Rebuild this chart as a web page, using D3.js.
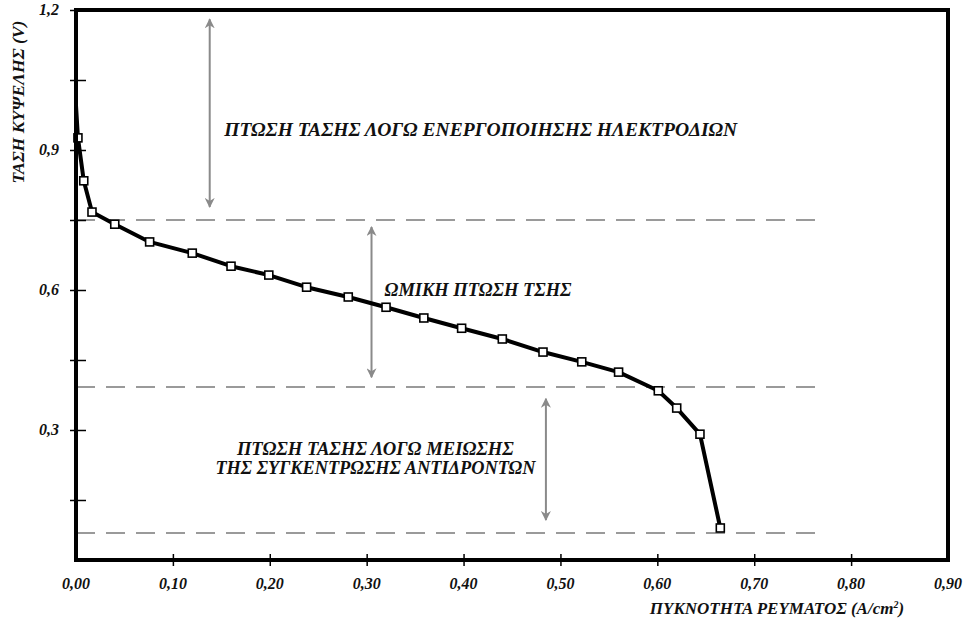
<!DOCTYPE html>
<html>
<head>
<meta charset="utf-8">
<script src="https://cdn.jsdelivr.net/npm/d3@7"></script>
<style>
  html, body { margin: 0; padding: 0; background: #fff; }
  svg text { font-family: "Liberation Serif", "DejaVu Serif", serif; font-weight: bold; font-style: italic; fill: #111; }
</style>
</head>
<body>
<svg id="chart" width="970" height="621"></svg>
<script>
// Current density (A/cm²) and cell voltage (V)
const currentDensity = [0.000, 0.002, 0.008, 0.0165, 0.040, 0.076, 0.120, 0.160, 0.199, 0.238, 0.281, 0.320, 0.359, 0.398, 0.440, 0.482, 0.522, 0.560, 0.601, 0.620, 0.644, 0.665];
const cellVoltage    = [0.995, 0.926, 0.834, 0.767, 0.741, 0.703, 0.679, 0.651, 0.632, 0.606, 0.585, 0.563, 0.540, 0.518, 0.495, 0.467, 0.446, 0.424, 0.384, 0.347, 0.291, 0.090];
const hasMarker      = [false, true, true, true, true, true, true, true, true, true, true, true, true, true, true, true, true, true, true, true, true, true];

const xTickValues = [0, 0.1, 0.2, 0.3, 0.4, 0.5, 0.6, 0.7, 0.8, 0.9];
const xTickLabels = ["0,00", "0,10", "0,20", "0,30", "0,40", "0,50", "0,60", "0,70", "0,80", "0,90"];
const yTickValues = [0.15, 0.3, 0.45, 0.6, 0.75, 0.9, 1.05, 1.2];
const yLabelValues = [0.3, 0.6, 0.9, 1.2];
const yLabelTexts  = ["0,3", "0,6", "0,9", "1,2"];

// Region boundaries (dashed lines) and annotation arrows
const regionLevels = [0.75, 0.392, 0.079];
const arrowX   = [0.138, 0.305, 0.485];
const arrowTop = [1.18, 0.735, 0.367];
const arrowBot = [0.778, 0.413, 0.107];

const annotations = [
  { lines: ["ΠΤΩΣΗ ΤΑΣΗΣ ΛΟΓΩ ΕΝΕΡΓΟΠΟΙΗΣΗΣ ΗΛΕΚΤΡΟΔΙΩΝ"], x: 0.153, y: 0.929, anchor: "start", widths: [513] },
  { lines: ["ΩΜΙΚΗ ΠΤΩΣΗ ΤΣΗΣ"], x: 0.3185, y: 0.588, anchor: "start", widths: [187] },
  { lines: ["ΠΤΩΣΗ ΤΑΣΗΣ ΛΟΓΩ ΜΕΙΩΣΗΣ", "ΤΗΣ ΣΥΓΚΕΝΤΡΩΣΗΣ ΑΝΤΙΔΡΟΝΤΩΝ"], x: 0.309, y: 0.246, anchor: "middle", widths: [277, 320] }
];

const svg = d3.select("#chart");
const mLeft = 76, mRight = 948, mTop = 10, mBottom = 560;

const x = d3.scaleLinear().domain([0, 0.9]).range([mLeft, mRight]);
const y = d3.scaleLinear().domain([0.0214, 1.2]).range([mBottom, mTop]);

// Dashed region lines
svg.selectAll("line.region").data(regionLevels).join("line")
  .attr("class", "region")
  .attr("x1", x(0)).attr("x2", x(0.773))
  .attr("y1", d => y(d)).attr("y2", d => y(d))
  .attr("stroke", "#9a9a9a").attr("stroke-width", 2)
  .attr("stroke-dasharray", "19,11");

// Arrows
const defs = svg.append("defs");
["start", "end"].forEach(k => {
  defs.append("marker")
    .attr("id", "arrow-" + k)
    .attr("viewBox", "0 0 10 10")
    .attr("refX", 9).attr("refY", 5)
    .attr("markerWidth", 10).attr("markerHeight", 10)
    .attr("markerUnits", "userSpaceOnUse")
    .attr("orient", k === "start" ? "auto-start-reverse" : "auto")
    .append("path").attr("d", "M0,0 L10,5 L0,10 L3,5 Z").attr("fill", "#8a8a8a");
});
svg.selectAll("line.arrow").data(arrowX).join("line")
  .attr("class", "arrow")
  .attr("x1", d => x(d)).attr("x2", d => x(d))
  .attr("y1", (d, i) => y(arrowTop[i])).attr("y2", (d, i) => y(arrowBot[i]))
  .attr("stroke", "#8a8a8a").attr("stroke-width", 2)
  .attr("marker-start", "url(#arrow-start)")
  .attr("marker-end", "url(#arrow-end)");

// Annotation text
annotations.forEach(a => {
  a.lines.forEach((t, i) => {
    svg.append("text")
      .attr("x", a.anchor === "middle" ? x(a.x) - a.widths[i] / 2 : x(a.x))
      .attr("y", y(a.y) + i * 19)
      .attr("font-size", 19)
      .attr("textLength", a.widths[i])
      .attr("lengthAdjust", "spacingAndGlyphs")
      .text(t);
  });
});

// Data line
const line = d3.line().x(d => x(d[0])).y(d => y(d[1]));
const pts = currentDensity.map((c, i) => [c, cellVoltage[i], hasMarker[i]]);
svg.append("path").datum(pts)
  .attr("d", line)
  .attr("fill", "none").attr("stroke", "#000").attr("stroke-width", 4)
  .attr("stroke-linejoin", "round");

svg.selectAll("rect.pt").data(pts.filter(p => p[2])).join("rect")
  .attr("class", "pt")
  .attr("x", d => x(d[0]) - 4).attr("y", d => y(d[1]) - 4)
  .attr("width", 8).attr("height", 8)
  .attr("fill", "#fff").attr("stroke", "#000").attr("stroke-width", 1.6);

// Frame
svg.append("rect")
  .attr("x", mLeft).attr("y", mTop)
  .attr("width", mRight - mLeft).attr("height", mBottom - mTop)
  .attr("fill", "none").attr("stroke", "#000").attr("stroke-width", 4);

// Axes ticks (crossing)
const yAxis = d3.axisLeft(y).tickValues(yTickValues).tickSize(6).tickFormat("");
const yg = svg.append("g").attr("transform", `translate(${mLeft},0)`).call(yAxis);
yg.select(".domain").remove();
yg.selectAll(".tick line").attr("x1", -6).attr("x2", 10).attr("stroke", "#000").attr("stroke-width", 1.5);

const xAxis = d3.axisBottom(x).tickValues(xTickValues.slice(1, 9)).tickSize(6).tickFormat("");
const xg = svg.append("g").attr("transform", `translate(0,${mBottom})`).call(xAxis);
xg.select(".domain").remove();
xg.selectAll(".tick line").attr("y1", -6).attr("y2", 6).attr("stroke", "#000").attr("stroke-width", 1.5);

// Tick labels
svg.selectAll("text.xl").data(xTickValues).join("text")
  .attr("class", "xl")
  .attr("x", d => x(d)).attr("y", 589)
  .attr("text-anchor", "middle").attr("font-size", 16)
  .text((d, i) => xTickLabels[i]);

svg.selectAll("text.yl").data(yLabelValues).join("text")
  .attr("class", "yl")
  .attr("x", 59).attr("y", d => y(d) + 5)
  .attr("text-anchor", "end").attr("font-size", 16)
  .text((d, i) => yLabelTexts[i]);

// Axis titles
const xt = svg.append("text")
  .attr("x", 777).attr("y", 614)
  .attr("text-anchor", "middle").attr("font-size", 17);
xt.append("tspan").text("ΠΥΚΝΟΤΗΤΑ ΡΕΥΜΑΤΟΣ  (A/cm");
xt.append("tspan").attr("dy", -6).attr("font-size", 10).text("2");
xt.append("tspan").attr("dy", 6).text(")");

svg.append("text")
  .attr("transform", "translate(24,102) rotate(-90)")
  .attr("text-anchor", "middle").attr("font-size", 16)
  .attr("textLength", 163).attr("lengthAdjust", "spacingAndGlyphs")
  .text("ΤΑΣΗ ΚΥΨΕΛΗΣ (V)");
</script>
</body>
</html>
